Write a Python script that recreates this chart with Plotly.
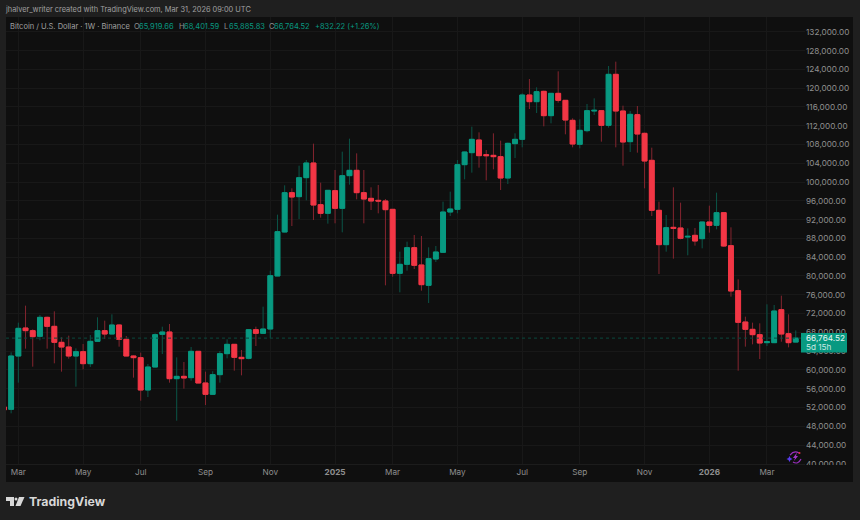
import pandas as pd
import plotly.graph_objects as go

# weekly candles
weeks = pd.date_range("2024-02-19", periods=111, freq="7D")

opens = [52100, 51597, 62957, 68921, 68353, 67146, 71193, 69276, 65868, 64874, 62957, 63880,
         61324, 66081, 68353, 67643, 69560, 66507, 62957, 62602, 55715, 60614, 67572, 68069,
         58129, 58626, 58342, 63951, 57206, 54792, 58981, 63454, 65442, 62673, 62460, 68566,
         67785, 68708, 80000, 89369, 97747, 96895, 100942, 104066, 95191, 93345, 98173, 94410,
         101368, 102504, 97747, 96540, 96114, 95972, 94197, 80565, 82482, 86032, 82340, 78009,
         83618, 85038, 93629, 94198, 103711, 106267, 108965, 105841, 105699, 105415, 100871,
         108184, 109107, 118550, 117130, 119331, 114148, 118905, 117414, 113154, 108042, 110953,
         115142, 115213, 112089, 122952, 115142, 108610, 114361, 110385, 104634, 93984, 86671,
         90363, 90221, 88304, 88659, 87949, 91499, 90789, 93487, 86458, 76873, 70199, 68637,
         67501, 65797, 65797, 72826, 67714, 65919.66]
highs = [52100, 63740, 70057, 73678, 68637, 71690, 71335, 72471, 66933, 67288, 64590, 65513,
         67430, 71193, 70483, 71832, 69702, 67217, 63099, 63667, 61253, 67785, 69205, 69773,
         62673, 61679, 64874, 63951, 59620, 59700, 64022, 66507, 65513, 64235, 68637, 69205,
         73465, 81133, 93061, 99309, 98670, 103498, 104705, 108184, 99877, 98300, 102575, 106480,
         109249, 106125, 102575, 98883, 99380, 96398, 94268, 85180, 87310, 88730, 88517, 86103,
         86387, 95830, 97960, 104705, 106500, 111805, 110598, 106835, 110385, 108823, 108400,
         110385, 118905, 121958, 120183, 119473, 118905, 123591, 117485, 113580, 113367, 116633,
         117840, 115284, 124727, 125650, 116278, 115142, 116207, 110527, 107332, 95830, 92990,
         98883, 95617, 90150, 90221, 91570, 94978, 97747, 93558, 90363, 79287, 71335, 70057,
         69915, 73962, 73820, 75808, 71832, 68401.59]
lows = [51500, 50745, 57277, 64519, 60685, 66294, 64519, 61395, 59620, 62389, 56425, 60117,
        60614, 66081, 66578, 67572, 64945, 62957, 58342, 53443, 54224, 60543, 63383, 57277,
        49183, 55999, 57703, 57206, 52520, 54700, 57277, 62460, 59833, 58839, 62247, 65087,
        67714, 66720, 80000, 89300, 90647, 92138, 96114, 91925, 92422, 91144, 91215, 89298,
        99451, 96327, 91215, 94055, 93345, 78009, 79855, 76518, 81133, 81488, 76873, 74246,
        82979, 85000, 92777, 93345, 100587, 102007, 103072, 100374, 102717, 98315, 99593,
        105131, 107403, 115568, 114716, 111876, 112515, 116917, 110172, 107403, 107190, 110598,
        114290, 108610, 111592, 107403, 103498, 106409, 106267, 98670, 92777, 80423, 85180,
        83689, 87807, 84399, 86458, 85890, 89227, 89937, 86174, 75596, 59833, 64945, 65442,
        62318, 65087, 65700, 66000, 64803, 65885.83]
closes = [51500, 62957, 68850, 68353, 67075, 71193, 69276, 65868, 64874, 62957, 63880, 61324,
          66081, 68353, 67643, 69560, 66507, 62957, 62602, 55715, 60614, 67501, 68069, 58129,
          58626, 58271, 63951, 57206, 54792, 58981, 63454, 65442, 62673, 62389, 68566, 67785,
          68708, 80068, 89440, 97747, 96824, 100942, 104066, 95120, 93345, 98244, 94410, 101368,
          102504, 97747, 96398, 95972, 95972, 94126, 80565, 82482, 86032, 82269, 78151, 83689,
          85109, 93629, 94268, 103711, 106409, 109107, 105628, 105628, 105415, 100871, 108255,
          109107, 118550, 117130, 119260, 114148, 118905, 117414, 113225, 108113, 111024, 115213,
          115284, 112089, 122952, 115142, 108539, 114432, 110243, 104492, 93984, 86671, 90292,
          90150, 88020, 88446, 87452, 91499, 90789, 93487, 86387, 76802, 70128, 68637, 67501,
          65726, 66010, 72542, 67643, 65797, 66764.52]

price_ticks = list(range(40000, 136000, 4000))
month_ticks = ["2024-03-04", "2024-05-06", "2024-07-01", "2024-09-02", "2024-11-04", "2025-01-06",
               "2025-03-03", "2025-05-05", "2025-07-07", "2025-09-01", "2025-11-03", "2026-01-05",
               "2026-03-02"]
month_labels = ["Mar", "May", "Jul", "Sep", "Nov", "<b>2025</b>", "Mar", "May", "Jul", "Sep", "Nov",
                "<b>2026</b>", "Mar"]

UP = "#089981"
DOWN = "#f23645"
UP_WICK = "#0b5548"
DOWN_WICK = "#84252f"
TXT = "#8f8f8f"
FONT = "Inter"

# plot area in window pixels
W, H = 860, 520
L, R, T, B = 6, 805, 17, 464


def xp(px):
    return (px - L) / (R - L)


def yp(py):
    return (B - py) / (B - T)


def path(points):
    return "M" + " L".join(f"{xp(a):.5f},{yp(b):.5f}" for a, b in points) + " Z"


fig = go.Figure()

# wicks first, bodies drawn over them so the two can have different colours
fig.add_trace(go.Candlestick(
    x=weeks, open=opens, high=highs, low=lows, close=closes,
    increasing=dict(line=dict(color=UP_WICK, width=1), fillcolor=UP_WICK),
    decreasing=dict(line=dict(color=DOWN_WICK, width=1), fillcolor=DOWN_WICK),
    whiskerwidth=0, showlegend=False, hoverinfo="skip",
))
body_top = [max(o, c) for o, c in zip(opens, closes)]
body_bot = [min(o, c) for o, c in zip(opens, closes)]
fig.add_trace(go.Candlestick(
    x=weeks, open=opens, high=body_top, low=body_bot, close=closes,
    increasing=dict(line=dict(color=UP, width=1), fillcolor=UP),
    decreasing=dict(line=dict(color=DOWN, width=1), fillcolor=DOWN),
    whiskerwidth=0, showlegend=False,
))

shapes = [
    # dark pane behind plot and both axes
    dict(type="rect", xref="paper", yref="paper", layer="below", x0=0, x1=xp(853), y0=yp(482), y1=1,
         fillcolor="#0f0f0f", line_width=0),
    # last price line and tag
    dict(type="line", xref="paper", yref="y", x0=0, x1=1, y0=closes[-1], y1=closes[-1],
         line=dict(color="#0b4a3f", width=1, dash="dot")),
    dict(type="rect", xref="paper", yref="paper", x0=xp(801), x1=xp(847), y0=yp(352.5), y1=yp(333),
         fillcolor=UP, line_width=0, layer="above"),
    # the lowest price label is cut off by the pane edge in the source
    dict(type="rect", xref="paper", yref="paper", x0=xp(805), x1=xp(853), y0=yp(470), y1=yp(465),
         fillcolor="#0f0f0f", line_width=0, layer="above"),
    # TradingView logo
    dict(type="path", xref="paper", yref="paper", fillcolor="#d8d8d8", line_width=0,
         path=path([(6, 497), (14, 497), (14, 506), (10, 506), (10, 501), (6, 501)])),
    dict(type="path", xref="paper", yref="paper", fillcolor="#d8d8d8", line_width=0,
         path=path([(19, 497), (24.5, 497), (20.5, 506), (15.5, 506)])),
    dict(type="circle", xref="paper", yref="paper", fillcolor="#d8d8d8", line_width=0,
         x0=xp(14.5), x1=xp(17.5), y0=yp(500.5), y1=yp(497.5)),
    # purple assistant icon
    dict(type="path", xref="paper", yref="paper", line=dict(color="#9b2fc0", width=1.2),
         path=f"M{xp(790):.5f},{yp(455):.5f} Q{xp(794):.5f},{yp(450):.5f} {xp(799):.5f},{yp(453):.5f}"),
    dict(type="path", xref="paper", yref="paper", line=dict(color="#9b2fc0", width=1.2),
         path=f"M{xp(793):.5f},{yp(462):.5f} Q{xp(798):.5f},{yp(465):.5f} {xp(801):.5f},{yp(459):.5f}"),
    dict(type="path", xref="paper", yref="paper", fillcolor="#a335c8", line_width=0,
         path=path([(797, 452.5), (793, 458), (795, 458), (794, 461), (798, 456), (796, 456)])),
    dict(type="path", xref="paper", yref="paper", fillcolor="#5a3df0", line_width=0,
         path=path([(789.5, 456), (790.5, 458), (792.5, 459), (790.5, 460), (789.5, 462),
                    (788.5, 460), (786.5, 459), (788.5, 458)])),
    dict(type="circle", xref="paper", yref="paper", fillcolor="#e8323f", line_width=0,
         x0=xp(798.5), x1=xp(800.5), y0=yp(454), y1=yp(452)),
]


def note(text, x, y, size, color, **kw):
    # annotations carry about 2px of padding, so pull them back to the read position
    return dict(text=text, xref="paper", yref="paper", x=xp(x - 2), y=yp(y), xanchor="left", yanchor="middle",
                showarrow=False, align="left", font=dict(family=FONT, size=size, color=color), **kw)


def fmt(v):
    return f"{v:,.2f}"


chg = 832.22
ohlc_parts = [
    (134, "O", TXT), (139, fmt(opens[-1]), UP),
    (179, "H", TXT), (184, fmt(highs[-1]), UP),
    (224, "L", TXT), (228.5, fmt(lows[-1]), UP),
    (269, "C", TXT), (274, fmt(closes[-1]), UP),
    (314.5, f"+{chg:,.2f} (+1.26%)", UP),
]

annotations = [
    note("jhalver_writer created with TradingView.com, Mar 31, 2026 09:00 UTC", 5, 10, 7.4, "#a0a0a0"),
    note("Bitcoin / U.S. Dollar · 1W · Binance", 10, 26.5, 7.5, "#a0a0a0"),
    note("<b>TradingView</b>", 29, 501.5, 12.3, "#d8d8d8"),
    note(fmt(closes[-1]), 806, 338, 8.2, "#e8f5f2"),
    note("5d 15h", 806, 347, 8.2, "#c8e8e2"),
]
annotations += [note(t, x, 26.5, 7.5, c) for x, t, c in ohlc_parts]

fig.update_layout(
    width=W, height=H,
    margin=dict(l=L, r=W - R, t=T, b=H - B, pad=0),
    paper_bgcolor="#1f1f1f",
    plot_bgcolor="#0f0f0f",
    font=dict(family=FONT, size=8.2, color=TXT),
    boxgap=0.1,
    boxgroupgap=0.25,
    showlegend=False,
    shapes=shapes,
    annotations=annotations,
    xaxis=dict(
        range=["2024-02-21", "2026-04-08"],
        rangeslider=dict(visible=False),
        tickmode="array", tickvals=month_ticks, ticktext=month_labels,
        showgrid=True, gridcolor="#181818", gridwidth=1,
        zeroline=False, showline=True, linecolor="#1c1c1c", ticks="", ticklen=0,
        tickfont=dict(family=FONT, size=8.2, color=TXT),
    ),
    yaxis=dict(
        side="right",
        range=[39953, 135164],
        tickmode="array", tickvals=price_ticks, ticktext=[f"{v:,.2f}" for v in price_ticks],
        showgrid=True, gridcolor="#181818", gridwidth=1,
        zeroline=False, showline=False, ticks="",
        tickfont=dict(family=FONT, size=8.2, color=TXT),
    ),
)

# the page's default body margin would push the chart off the window
fig.write_html("out.html", config=dict(displayModeBar=False),
               post_script="document.body.style.margin='0';document.body.style.overflow='hidden';")
